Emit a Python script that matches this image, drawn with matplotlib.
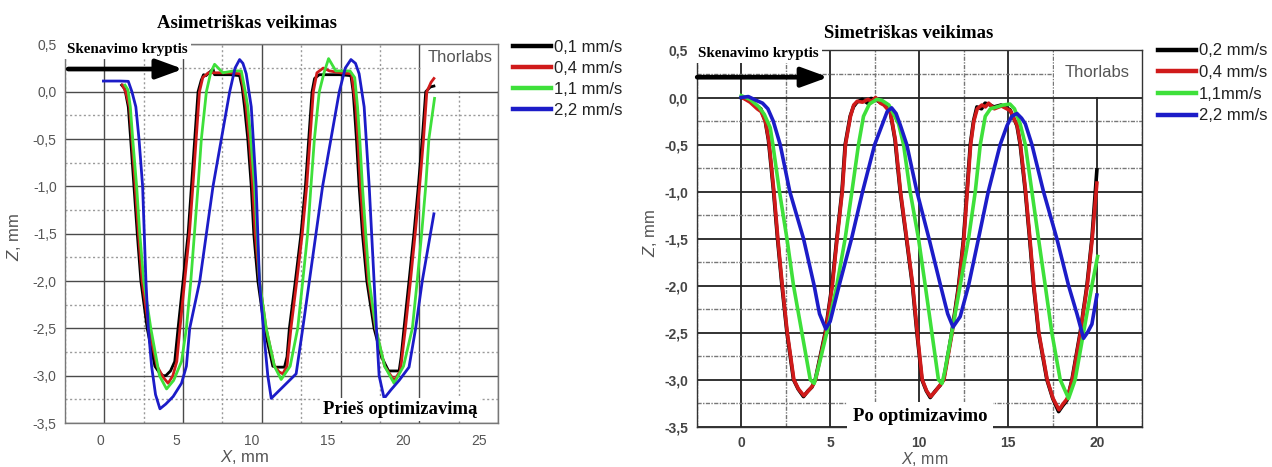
import matplotlib
matplotlib.use("Agg")
import matplotlib.pyplot as plt
from matplotlib.patches import Rectangle
from matplotlib.ticker import MultipleLocator, FuncFormatter

plt.rcParams['font.family'] = ['Liberation Sans', 'DejaVu Sans']
plt.rcParams['mathtext.fontset'] = 'custom'
plt.rcParams['mathtext.it'] = 'Liberation Sans:italic'
plt.rcParams['mathtext.rm'] = 'Liberation Sans'

# ---------------- data: asymmetric mode (before optimisation) ----------------
asym_labels = ['0,1 mm/s', '0,4 mm/s', '1,1 mm/s', '2,2 mm/s']

asym_x_01 = [1.1, 1.3, 1.52, 1.67, 1.88, 2.09, 2.32, 2.72, 3.21, 3.5, 3.73, 3.9, 4.2, 4.47,
             4.68, 5.0, 5.32, 5.53, 5.74, 5.95, 6.15, 6.3, 6.45, 6.9, 7.0, 8.0, 8.59, 8.75,
             8.9, 9.11, 9.33, 9.49, 9.75, 10.17, 10.7, 10.91, 11.44, 11.6, 11.75, 12.13,
             12.49, 12.77, 12.98, 13.19, 13.35, 13.65, 15.0, 15.66, 15.8, 15.87, 16.01,
             16.18, 16.39, 16.67, 17.13, 17.6, 18.05, 18.72, 18.85, 19.03, 19.35, 19.66,
             19.94, 20.19, 20.41, 20.7, 20.93]
asym_y_01 = [0.07, 0.03, -0.16, -0.5, -1.0, -1.5, -2.0, -2.5, -2.9, -2.97, -3.0, -3.0,
             -2.95, -2.85, -2.5, -2.0, -1.5, -1.0, -0.5, 0.0, 0.12, 0.18, 0.17, 0.24,
             0.18, 0.18, 0.17, 0.05, -0.16, -0.5, -1.0, -1.5, -2.0, -2.5, -2.9, -2.91,
             -2.91, -2.8, -2.5, -2.0, -1.5, -1.0, -0.5, 0.0, 0.14, 0.18, 0.18, 0.17, 0.0,
             -0.16, -0.5, -1.0, -1.5, -2.0, -2.5, -2.8, -2.95, -2.95, -2.8, -2.5, -2.0,
             -1.5, -1.0, -0.5, 0.0, 0.05, 0.06]

asym_x_04 = [1.15, 1.35, 1.6, 1.75, 1.96, 2.17, 2.4, 2.82, 3.35, 3.75, 4.05, 4.35, 4.6,
             4.8, 5.1, 5.4, 5.62, 5.83, 6.04, 6.25, 6.6, 7.2, 8.0, 8.65, 8.82, 9.0, 9.2,
             9.42, 9.58, 9.85, 10.27, 10.8, 11.1, 11.33, 11.6, 11.85, 12.22, 12.57,
             12.85, 13.06, 13.27, 13.5, 13.9, 14.3, 15.0, 15.7, 15.85, 15.97, 16.1,
             16.27, 16.48, 16.76, 17.22, 17.8, 18.4, 18.8, 19.12, 19.44, 19.74, 20.02,
             20.27, 20.48, 20.75, 20.93]
asym_y_04 = [0.07, 0.0, -0.16, -0.5, -1.0, -1.5, -2.0, -2.5, -2.9, -3.02, -3.08, -3.0,
             -2.85, -2.5, -2.0, -1.5, -1.0, -0.5, 0.0, 0.15, 0.2, 0.2, 0.2, 0.19, 0.05,
             -0.16, -0.5, -1.0, -1.5, -2.0, -2.5, -2.9, -2.96, -2.98, -2.9, -2.5, -2.0,
             -1.5, -1.0, -0.5, 0.0, 0.2, 0.25, 0.22, 0.2, 0.19, 0.0, -0.16, -0.5, -1.0,
             -1.5, -2.0, -2.5, -2.9, -3.05, -2.95, -2.5, -2.0, -1.5, -1.0, -0.5, 0.0,
             0.1, 0.14]

asym_x_11 = [1.31, 1.5, 1.65, 1.8, 2.05, 2.25, 2.5, 2.95, 3.5, 3.95, 4.4, 4.9, 5.21, 5.49,
             5.72, 5.95, 6.16, 6.48, 6.75, 7.0, 7.53, 8.2, 8.7, 8.95, 9.11, 9.3, 9.54,
             9.7, 9.85, 10.28, 10.8, 11.23, 11.8, 12.28, 12.6, 12.91, 13.12, 13.34,
             13.65, 13.95, 14.24, 14.7, 15.6, 15.9, 16.08, 16.22, 16.39, 16.6, 16.82,
             17.24, 17.8, 18.4, 19.0, 19.56, 19.87, 20.15, 20.41, 20.61, 20.97]
asym_y_11 = [0.07, 0.02, -0.16, -0.5, -1.0, -1.5, -2.0, -2.5, -3.0, -3.14, -3.05, -2.85,
             -2.5, -2.0, -1.5, -1.0, -0.5, 0.0, 0.2, 0.29, 0.2, 0.22, 0.22, 0.0, -0.16,
             -0.5, -1.0, -1.5, -2.0, -2.5, -2.9, -3.04, -2.9, -2.5, -2.0, -1.5, -1.0,
             -0.5, 0.0, 0.2, 0.35, 0.22, 0.22, 0.15, -0.16, -0.5, -1.0, -1.5, -2.0, -2.5,
             -2.9, -3.08, -2.9, -2.5, -2.0, -1.5, -1.0, -0.5, -0.07]

asym_x_22 = [-0.06, 1.0, 1.52, 1.75, 2.0, 2.2, 2.43, 2.64, 2.79, 3.0, 3.25, 3.53, 3.9,
             4.37, 4.9, 5.21, 5.42, 6.06, 6.48, 6.9, 7.43, 7.96, 8.3, 8.59, 8.8, 9.01,
             9.33, 9.64, 9.85, 10.1, 10.38, 10.6, 11.33, 12.18, 12.6, 13.02, 13.44,
             13.86, 14.39, 14.92, 15.3, 15.66, 15.95, 16.18, 16.5, 16.82, 17.13, 17.28,
             17.45, 17.77, 18.2, 18.72, 19.35, 19.77, 20.19, 20.93]
asym_y_22 = [0.113, 0.113, 0.11, 0.0, -0.16, -0.5, -1.0, -2.0, -2.5, -2.9, -3.2, -3.35,
             -3.3, -3.22, -3.08, -2.9, -2.5, -2.0, -1.5, -1.0, -0.5, 0.0, 0.25, 0.34,
             0.3, 0.19, -0.16, -1.0, -2.0, -2.5, -3.0, -3.24, -3.12, -2.98, -2.5, -2.0,
             -1.5, -1.0, -0.5, 0.0, 0.25, 0.34, 0.3, 0.19, -0.16, -1.0, -2.0, -2.5, -3.0,
             -3.24, -3.15, -3.05, -2.91, -2.5, -2.0, -1.29]

# ---------------- data: symmetric mode (after optimisation) ----------------
sym_labels = ['0,2 mm/s', '0,4 mm/s', '1,1mm/s', '2,2 mm/s']

sym_x_02 = [0.04, 0.5, 0.88, 1.1, 1.35, 1.53, 1.82, 2.04, 2.29, 2.57, 2.94, 3.2, 3.5,
            3.75, 3.97, 4.16, 4.72, 5.1, 5.37, 5.66, 5.84, 6.12, 6.3, 6.5, 6.8, 7.1, 7.3,
            7.53, 7.8, 8.0, 8.37, 8.64, 8.93, 9.28, 9.62, 9.87, 10.15, 10.4, 10.62, 10.9,
            11.18, 11.37, 11.83, 12.21, 12.49, 12.68, 12.87, 13.05, 13.24, 13.5, 13.7,
            13.88, 14.2, 14.6, 15.1, 15.49, 15.67, 15.96, 16.2, 16.42, 16.7, 17.17,
            17.5, 17.83, 18.05, 18.3, 18.58, 19.04, 19.42, 19.7, 19.98]
sym_y_02 = [0.0, -0.03, -0.1, -0.12, -0.25, -0.45, -1.0, -1.5, -2.0, -2.5, -3.0, -3.1,
            -3.18, -3.12, -3.08, -3.0, -2.5, -2.0, -1.5, -1.0, -0.5, -0.2, -0.1, -0.05,
            -0.02, -0.06, -0.01, -0.02, -0.05, -0.07, -0.15, -0.45, -1.0, -1.5, -2.0,
            -2.5, -3.0, -3.12, -3.19, -3.12, -3.06, -3.0, -2.5, -2.0, -1.5, -1.0, -0.5,
            -0.25, -0.1, -0.12, -0.06, -0.07, -0.1, -0.08, -0.13, -0.3, -0.5, -1.0,
            -1.5, -2.0, -2.5, -3.0, -3.2, -3.34, -3.28, -3.22, -3.0, -2.5, -2.0, -1.5,
            -0.77]

sym_x_04 = [0.06, 0.5, 0.9, 1.12, 1.37, 1.55, 1.84, 2.06, 2.31, 2.59, 2.96, 3.22, 3.52,
            3.77, 3.99, 4.18, 4.74, 5.12, 5.39, 5.68, 5.86, 6.14, 6.32, 6.52, 6.82, 7.12,
            7.32, 7.55, 7.82, 8.02, 8.39, 8.66, 8.95, 9.3, 9.64, 9.89, 10.17, 10.42,
            10.64, 10.92, 11.2, 11.39, 11.85, 12.23, 12.51, 12.7, 12.89, 13.07, 13.26,
            13.52, 13.72, 13.9, 14.22, 14.62, 15.12, 15.51, 15.69, 15.98, 16.22, 16.44,
            16.72, 17.19, 17.52, 17.85, 18.07, 18.32, 18.6, 19.06, 19.44, 19.72, 19.98]
sym_y_04 = [0.0, -0.05, -0.12, -0.15, -0.26, -0.45, -1.0, -1.5, -2.0, -2.5, -3.0, -3.1,
            -3.17, -3.12, -3.07, -3.0, -2.5, -2.0, -1.5, -1.0, -0.5, -0.2, -0.08, -0.04,
            -0.05, -0.02, -0.04, 0.0, -0.06, -0.08, -0.16, -0.45, -1.0, -1.5, -2.0,
            -2.5, -3.0, -3.12, -3.18, -3.12, -3.05, -3.0, -2.5, -2.0, -1.5, -1.0, -0.5,
            -0.25, -0.12, -0.08, -0.1, -0.06, -0.12, -0.09, -0.14, -0.3, -0.5, -1.0,
            -1.5, -2.0, -2.5, -3.0, -3.2, -3.32, -3.26, -3.2, -3.0, -2.5, -2.0, -1.5,
            -0.91]

sym_x_11 = [0.0, 0.5, 1.0, 1.3, 1.63, 1.78, 2.15, 2.57, 2.94, 3.41, 3.88, 4.1, 4.3, 4.81,
            5.37, 5.84, 6.22, 6.59, 6.87, 7.2, 7.62, 7.9, 8.3, 8.84, 9.12, 9.49, 9.96,
            10.34, 10.71, 11.08, 11.28, 11.45, 11.83, 12.3, 12.77, 13.15, 13.43, 13.71,
            14.0, 14.36, 14.7, 15.1, 15.35, 15.67, 15.96, 16.33, 16.7, 17.08, 17.45,
            17.92, 18.39, 18.76, 19.23, 19.7, 20.02]
sym_y_11 = [0.02, -0.02, -0.1, -0.18, -0.32, -0.5, -1.0, -1.5, -2.0, -2.5, -3.0, -3.04,
            -2.9, -2.5, -2.0, -1.5, -1.0, -0.5, -0.2, -0.07, -0.02, -0.03, -0.08, -0.28,
            -0.5, -1.0, -1.5, -2.0, -2.5, -3.0, -3.04, -2.9, -2.5, -2.0, -1.5, -1.0,
            -0.5, -0.2, -0.12, -0.1, -0.08, -0.07, -0.12, -0.28, -0.5, -1.0, -1.5, -2.0,
            -2.5, -3.0, -3.2, -3.0, -2.5, -2.0, -1.69]

sym_x_22 = [0.0, 0.4, 0.84, 1.2, 1.5, 1.8, 2.19, 2.73, 3.5, 4.1, 4.4, 4.75, 5.0, 5.5,
            6.2, 6.82, 7.5, 8.0, 8.2, 8.45, 8.7, 8.95, 9.3, 9.87, 10.55, 11.2, 11.6,
            11.9, 12.3, 12.77, 13.33, 13.88, 14.55, 14.93, 15.2, 15.49, 15.75, 15.96,
            16.33, 16.98, 17.73, 18.39, 18.86, 19.23, 19.45, 19.7, 19.98]
sym_y_22 = [0.0, 0.01, -0.03, -0.06, -0.12, -0.25, -0.5, -1.0, -1.5, -2.0, -2.3, -2.46,
            -2.38, -2.0, -1.5, -1.0, -0.5, -0.25, -0.15, -0.11, -0.17, -0.3, -0.5, -1.0,
            -1.5, -2.0, -2.3, -2.44, -2.33, -2.0, -1.5, -1.0, -0.5, -0.3, -0.2, -0.17,
            -0.22, -0.28, -0.5, -1.0, -1.5, -2.0, -2.3, -2.56, -2.5, -2.41, -2.1]

x_ticks_left = [0, 5, 10, 15, 20, 25]
x_ticks_right = [0, 5, 10, 15, 20]
y_ticks = [0.5, 0.0, -0.5, -1.0, -1.5, -2.0, -2.5, -3.0, -3.5]

colors = ['#000000', '#d01a1a', '#3ee03a', '#1c1cc8']

W, H = 1272, 467
fig = plt.figure(figsize=(W / 100, H / 100), dpi=100)
axL = fig.add_axes([0.0511, 0.0942, 0.3404, 0.8107])
axR = fig.add_axes([0.5477, 0.0863, 0.3499, 0.8056])

comma = FuncFormatter(lambda v, p: f'{v:.1f}'.replace('.', ','))


def style_axes(ax, xlim, major_c, minor_c, major_lw, minor_ls, spine_c, tick_c, tick_w):
    ax.set_xlim(*xlim)
    ax.set_ylim(-3.5, 0.5)
    ax.xaxis.set_major_locator(MultipleLocator(5))
    ax.xaxis.set_minor_locator(MultipleLocator(2.5))
    ax.set_yticks(y_ticks)
    ax.yaxis.set_minor_locator(MultipleLocator(0.25))
    ax.yaxis.set_major_formatter(comma)
    ax.set_axisbelow(True)
    ax.grid(which='major', color=major_c, lw=major_lw, ls='-')
    ax.grid(which='minor', color=minor_c, lw=1.0, ls=minor_ls)
    ax.tick_params(which='both', length=0)
    ax.tick_params(axis='y', pad=6, labelsize=10, labelcolor=tick_c)
    ax.tick_params(axis='x', pad=8, labelsize=10, labelcolor=tick_c)
    for lab in ax.get_yticklabels() + ax.get_xticklabels():
        lab.set_fontweight(tick_w)
    for s in ax.spines.values():
        s.set_color(spine_c)
        s.set_linewidth(1.0)


def fig_text(px, py, s, **kw):
    return fig.text(px / W, 1 - py / H, s, **kw)


arrow_props = dict(arrowstyle='-|>,head_length=1.15,head_width=0.42', lw=3.4,
                   color='black', shrinkA=0, shrinkB=0, mutation_scale=14)

# ---------------- left panel ----------------
style_axes(axL, (-2.5, 25), '#4a4a4a', '#9a9a9a', 1.0, (0, (1.5, 1.8)), '#777777',
           '#555555', 'normal')
axL.tick_params(axis='x', labelbottom=False)
sec = axL.secondary_xaxis('bottom', functions=(lambda x: (x + 0.272) / 0.962,
                                               lambda v: v * 0.962 - 0.272))
sec.set_xticks(x_ticks_left)
sec.tick_params(length=0, pad=8, labelsize=10, labelcolor='#555555')
sec.spines['bottom'].set_visible(False)

axL.add_patch(Rectangle((20.08, 0.006), 4.92, 0.494, facecolor='white',
                        edgecolor='none', zorder=0.7))
for xs, ys, c, lab in zip([asym_x_01, asym_x_04, asym_x_11, asym_x_22],
                          [asym_y_01, asym_y_04, asym_y_11, asym_y_22],
                          colors, asym_labels):
    axL.plot(xs, ys, color=c, lw=2.0, label=lab, solid_joinstyle='round')

axL.text(22.6, 0.36, 'Thorlabs', ha='center', va='center', fontsize=12, color='#555555')
axL.text(-2.36, 0.45, 'Skenavimo kryptis', ha='left', va='center', fontsize=10.8,
         family='Liberation Serif', fontweight='bold', zorder=5,
         bbox=dict(facecolor='white', edgecolor='none', pad=2.5))
axL.annotate('', xy=(5.0, 0.24), xytext=(-2.3, 0.24), arrowprops=arrow_props, zorder=6)
axL.text(18.78, -3.36, 'Prieš optimizavimą', ha='center', va='center', fontsize=13.5,
         family='Liberation Serif', fontweight='bold', zorder=5,
         bbox=dict(facecolor='white', edgecolor='none', pad=2.0))
fig_text(14, 237, r'$\mathit{Z}$, mm', rotation=90, ha='center', va='center',
         fontsize=12, color='#555555')
fig_text(245, 457, r'$\mathit{X}$, mm', ha='center', va='center', fontsize=12,
         color='#555555')

legL = axL.legend(loc='upper left', bbox_to_anchor=(0.4033, 0.914),
                  bbox_transform=fig.transFigure, frameon=False, fontsize=12,
                  handlelength=2.3, handletextpad=0.15, labelspacing=0.36,
                  borderpad=0, borderaxespad=0)
for ln in legL.get_lines():
    ln.set_linewidth(3.2)
for t in legL.get_texts():
    t.set_color('#222222')

fig_text(247, 24, 'Asimetriškas veikimas', ha='center', va='center',
         fontsize=13.5, family='Liberation Serif', fontweight='bold')

# ---------------- right panel ----------------
style_axes(axR, (-2.5, 22.5), '#222222', '#777777', 1.3, (0, (3, 1, 1, 1)), '#333333',
           '#444444', 'bold')
axR.set_xticks(x_ticks_right)
axR.tick_params(axis='x', pad=7)
axR.add_patch(Rectangle((17.56, 0.006), 4.94, 0.494, facecolor='white',
                        edgecolor='none', zorder=0.7))
for xs, ys, c, lab in zip([sym_x_02, sym_x_04, sym_x_11, sym_x_22],
                          [sym_y_02, sym_y_04, sym_y_11, sym_y_22],
                          colors, sym_labels):
    axR.plot(xs, ys, color=c, lw=2.6, label=lab, solid_joinstyle='round')

axR.text(20.0, 0.27, 'Thorlabs', ha='center', va='center', fontsize=12, color='#555555')
axR.text(-2.42, 0.47, 'Skenavimo kryptis', ha='left', va='center', fontsize=10.8,
         family='Liberation Serif', fontweight='bold', zorder=5,
         bbox=dict(facecolor='white', edgecolor='none', pad=2.5))
axR.annotate('', xy=(4.89, 0.216), xytext=(-2.47, 0.216), arrowprops=arrow_props,
             zorder=6)
axR.text(10.06, -3.39, 'Po optimizavimo', ha='center', va='center', fontsize=13.5,
         family='Liberation Serif', fontweight='bold', zorder=5,
         bbox=dict(facecolor='white', edgecolor='none', pad=4.0))
fig_text(650, 233, r'$\mathit{Z}$, mm', rotation=90, ha='center', va='center',
         fontsize=12, color='#555555')
fig_text(925, 459.5, r'$\mathit{X}$, mm', ha='center', va='center', fontsize=11.5,
         color='#555555')

legR = axR.legend(loc='upper left', bbox_to_anchor=(0.9104, 0.907),
                  bbox_transform=fig.transFigure, frameon=False, fontsize=12,
                  handlelength=2.3, handletextpad=0.15, labelspacing=0.4,
                  borderpad=0, borderaxespad=0)
for ln in legR.get_lines():
    ln.set_linewidth(3.2)
for t in legR.get_texts():
    t.set_color('#222222')

fig_text(909, 33, 'Simetriškas veikimas', ha='center', va='center',
         fontsize=13.5, family='Liberation Serif', fontweight='bold')

fig.savefig('out.png', dpi=100)
